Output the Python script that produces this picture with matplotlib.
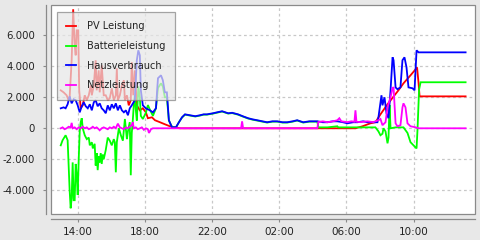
import matplotlib
matplotlib.use("Agg")
import matplotlib.pyplot as plt
from matplotlib.ticker import FixedLocator, FuncFormatter
from matplotlib.patches import Rectangle

# time in hours since midnight of day 1 (values > 24 belong to the next day)
t_pv = [12.99, 13.16, 13.34, 13.46, 13.52, 13.64, 13.73, 13.82, 13.88, 13.94,
        14.03, 14.09, 14.18, 14.30, 14.42, 14.54, 14.66, 14.78, 14.84, 14.96,
        15.07, 15.13, 15.25, 15.31, 15.43, 15.55, 15.67, 15.79, 15.91, 16.03,
        16.15, 16.27, 16.33, 16.39, 16.51, 16.63, 16.75, 16.81, 16.93, 17.04,
        17.16, 17.22, 17.31, 17.40, 17.52, 17.70, 17.88, 18.06, 18.18, 18.42,
        18.60, 18.90, 19.19, 19.49, 19.79, 20.09, 30.54, 30.96, 31.43, 31.73,
        32.03, 32.45, 32.81, 33.10, 33.40, 33.82, 34.12, 34.21, 34.30, 34.36,
        37.10]
pv = [2450, 2320, 2130, 1800, 2000, 4390, 7680, 5350, 4710, 6320,
      6320, 2450, 1290, 1480, 2130, 1810, 2130, 2770, 2130, 2770,
      4390, 2450, 3740, 2320, 4060, 2130, 2130, 1810, 1940, 2580,
      1810, 2130, 3870, 1810, 2130, 2770, 3100, 1810, 2130, 1480,
      1810, 4260, 2130, 3740, 1480, 1160, 1290, 1030, 650, 710,
      520, 390, 260, 130, 65, 0, 0, 130, 320, 390,
      900, 1550, 2050, 2450, 2900, 3420, 3800, 3930, 2900, 2060,
      2060]

t_bat = [12.99, 13.10, 13.28, 13.40, 13.46, 13.52, 13.58, 13.64, 13.70, 13.76,
         13.82, 13.88, 13.94, 14.00, 14.06, 14.12, 14.18, 14.24, 14.30, 14.42,
         14.54, 14.66, 14.72, 14.84, 14.90, 15.01, 15.07, 15.13, 15.19, 15.25,
         15.31, 15.37, 15.43, 15.49, 15.55, 15.67, 15.79, 15.91, 16.03, 16.15,
         16.21, 16.27, 16.33, 16.45, 16.57, 16.69, 16.81, 16.93, 16.99, 17.10,
         17.16, 17.22, 17.28, 17.34, 17.40, 17.46, 17.52, 17.61, 17.70, 17.76,
         17.88, 18.06, 18.18, 18.30, 18.48, 18.66, 18.78, 18.96, 19.07, 19.19,
         19.31, 19.43, 19.61, 19.85, 20.03,
         20.21, 20.39, 20.69, 21.00, 21.28, 21.50, 21.70, 22.06, 22.30, 22.60,
         22.96, 23.20, 23.55, 23.85, 24.15, 24.40, 24.69, 25.00, 25.28, 25.60,
         25.88, 26.20, 26.48, 26.80, 27.07, 27.43, 27.80, 28.27, 28.33, 28.87,
         29.46, 29.52, 30.06, 30.54, 31.25, 31.73,
         31.91, 32.03, 32.15, 32.21, 32.33, 32.45, 32.51, 32.57, 32.63, 32.93,
         33.40, 33.64, 33.82, 34.00, 34.12, 34.18, 34.24, 34.33, 34.42, 37.10]
bat = [-1100, -770, -450, -770, -2390, -4000, -5160, -4500, -2200, -4640,
       -4640, -2300, -3000, -4300, -2000, -200, 400, 650, 0, -450,
       -700, -600, -1100, -900, -1300, -1000, -2400, -1600, -2700, -1800,
       -2200, -1600, -2300, -1700, -2000, -1400, -600, -800, -1100, -700,
       -900, -2840, -900, 0, -450, -800, 600, -700, -200, 400,
       -3030, -300, 500, 1500, 2100, 1200, 500, 2700, 2000, 800,
       600, 1000, 1500, 1200, 800, 1300, 2600, 2900, 2700, 2000,
       2000, 500, 100, 50, 400,
       690, 880, 820, 760, 820, 880, 880, 950, 1010, 1080,
       950, 980, 880, 750, 630, 560, 500, 430, 370, 430,
       430, 370, 370, 430, 500, 370, 430, 430, 60, 60,
       130, 60, 60, 60, 60, 60,
       -200, -450, -350, 0, -200, -970, -600, 1500, 0, 60,
       60, -300, -900, -1100, -1230, -1300, 0, 2500, 2970, 2970]

t_house = [12.99, 13.16, 13.28, 13.40, 13.52, 13.64, 13.76, 13.88, 14.00, 14.12,
           14.24, 14.36, 14.48, 14.60, 14.72, 14.84, 14.96, 15.07, 15.19, 15.31,
           15.43, 15.55, 15.67, 15.79, 15.91, 16.03, 16.15, 16.27, 16.39, 16.51,
           16.63, 16.75, 16.87, 16.99, 17.10, 17.22, 17.40, 17.52, 17.61, 17.70,
           17.76, 17.88, 18.06, 18.30, 18.48, 18.66, 18.78, 18.96, 19.07, 19.19,
           19.31, 19.43, 19.61, 19.85, 20.03,
           20.21, 20.39, 20.69, 21.00, 21.28, 21.50, 21.70, 22.06, 22.30, 22.60,
           22.96, 23.20, 23.55, 23.85, 24.15, 24.40, 24.69, 25.00, 25.28, 25.60,
           25.88, 26.20, 26.48, 26.80, 27.07, 27.43, 27.80, 28.27, 28.60, 28.87,
           29.20, 29.46, 29.80, 30.06, 30.40, 30.66, 31.00, 31.25, 31.60, 31.85,
           31.91, 32.09, 32.15, 32.27, 32.39, 32.51, 32.63, 32.75, 32.81, 32.93,
           33.04, 33.22, 33.34, 33.46, 33.58, 33.70, 33.94, 34.06, 34.18, 34.30,
           37.10]
house = [1290, 1350, 1290, 1550, 2060, 1610, 1870, 1810, 1480, 1030,
         1420, 1680, 1420, 1290, 1550, 1160, 1680, 1810, 1420, 1610,
         1290, 1160, 970, 1480, 1160, 1550, 1290, 1610, 1160, 1480,
         1160, 1030, 1160, 840, 1290, 1480, 1810, 4390, 5030, 4710,
         2450, 1480, 1290, 1160, 1030, 1290, 3230, 3420, 3100, 2320,
         2320, 520, 65, 65, 390,
         710, 900, 840, 780, 840, 900, 900, 970, 1030, 1100,
         970, 1000, 900, 770, 650, 580, 520, 450, 390, 450,
         450, 390, 390, 450, 520, 390, 450, 450, 390, 390,
         450, 450, 390, 320, 390, 390, 450, 390, 390, 390,
         710, 2130, 1480, 2000, 970, 650, 2450, 4580, 4390, 2640,
         2520, 2640, 4390, 4580, 3940, 2640, 2580, 2450, 5030, 4900,
         4900]

t_grid = [12.99, 13.10, 13.22, 13.34, 13.46, 13.58, 13.64, 13.70, 13.82, 13.94,
          14.06, 14.18, 14.30, 14.42, 14.54, 14.66, 14.78, 14.90, 15.01, 15.13,
          15.25, 15.31, 15.43, 15.55, 15.67, 15.79, 15.91, 16.03, 16.15, 16.27,
          16.39, 16.51, 16.63, 16.75, 16.87, 16.99, 17.10, 17.22, 17.28, 17.34,
          17.46, 17.58, 17.70, 17.82, 17.94, 18.06, 18.18, 18.24, 18.30, 18.36,
          18.48, 23.73, 23.79, 23.85, 28.27, 28.33, 28.60, 28.87, 29.20, 29.46,
          29.58, 29.70, 30.06, 30.30, 30.48, 30.54, 30.60, 30.84, 31.25, 31.60,
          31.91, 32.03, 32.15, 32.33, 32.45, 32.63, 32.75, 32.81, 32.93, 33.04,
          33.22, 33.34, 33.40, 33.52, 33.64, 33.82, 34.12, 34.30, 37.10]
grid = [0, 60, -60, 0, 100, 60, 350, 0, 60, -60,
        60, 0, 100, 0, 60, -60, 0, 100, 0, 60,
        -60, -130, 0, 60, 0, -60, 60, 0, 100, 0,
        300, 60, 0, -60, 60, 0, 100, 200, 400, 0,
        60, -60, 0, 60, -100, 0, -60, -300, -200, -60,
        0, 0, 450, 0, 0, 400, 450, 390, 450, 520,
        650, 450, 400, 450, 420, 1160, 420, 400, 450, 400,
        520, 600, 200, 390, 1350, 2000, 2600, 2650, 320, 130,
        200, 1350, 1610, 1350, 320, 130, 65, 0, 0]

labels = ["PV Leistung", "Batterieleistung", "Hausverbrauch", "Netzleistung"]
colors = ["#ff0000", "#00ff00", "#0000ff", "#ff00ff"]
x_ticks = [14, 18, 22, 26, 30, 34]
y_ticks = [-4000, -2000, 0, 2000, 4000, 6000]

W, H = 480, 240
fig = plt.figure(figsize=(W / 100, H / 100), dpi=100, facecolor="#e8e8e8")
ax = fig.add_axes([50.5 / W, 1 - 214 / H, (475 - 50.5) / W, (214 - 5) / H])
ax.set_facecolor("white")

series = [(t_pv, pv), (t_bat, bat), (t_house, house), (t_grid, grid)]
for (tx, vy), lab, col in zip(series, labels, colors):
    ax.plot(tx, vy, color=col, lw=1.3, label=lab, solid_joinstyle="miter")

ax.set_xlim(12.38, 37.66)
ax.set_ylim(-5530, 7955)

ax.xaxis.set_major_locator(FixedLocator(x_ticks))
ax.yaxis.set_major_locator(FixedLocator(y_ticks))
ax.xaxis.set_major_formatter(FuncFormatter(lambda v, p: f"{int(round(v)) % 24:02d}:00"))
ax.yaxis.set_major_formatter(FuncFormatter(lambda v, p: f"{int(v):,}".replace(",", ".")))

ax.grid(True, color="#c8c8c8", lw=0.9, linestyle=(0, (2.2, 2.2)))
ax.set_axisbelow(True)

for s in ["top", "right"]:
    ax.spines[s].set_visible(False)
for s in ["left", "bottom"]:
    ax.spines[s].set_position(("outward", 3.6))
    ax.spines[s].set_color("#8a8a8a")
    ax.spines[s].set_linewidth(0.9)
ax.add_patch(Rectangle((0, 0), 1, 1, transform=ax.transAxes, fill=False,
                       edgecolor="#8a8a8a", lw=0.9, clip_on=False, zorder=5))

ax.tick_params(axis="y", length=2.5, width=0.8, color="#8a8a8a", pad=5,
               labelsize=7.3, labelcolor="#222222")
ax.tick_params(axis="x", length=2.2, width=0.8, color="#8a8a8a", pad=3.5,
               labelsize=7.5, labelcolor="#222222")

leg = ax.legend(loc="upper left", bbox_to_anchor=(57 / W, 1 - 12 / H),
                bbox_transform=fig.transFigure, borderaxespad=0,
                fontsize=7.0, handlelength=1.03, handletextpad=1.1,
                borderpad=0.95, labelspacing=1.0, fancybox=False,
                framealpha=0.7, facecolor="#e6e6e6", edgecolor="#808080")
leg.get_frame().set_linewidth(0.9)
for t in leg.get_texts():
    t.set_color("#222222")
leg.set_zorder(10)

fig.savefig("out.png", dpi=100, facecolor=fig.get_facecolor())
